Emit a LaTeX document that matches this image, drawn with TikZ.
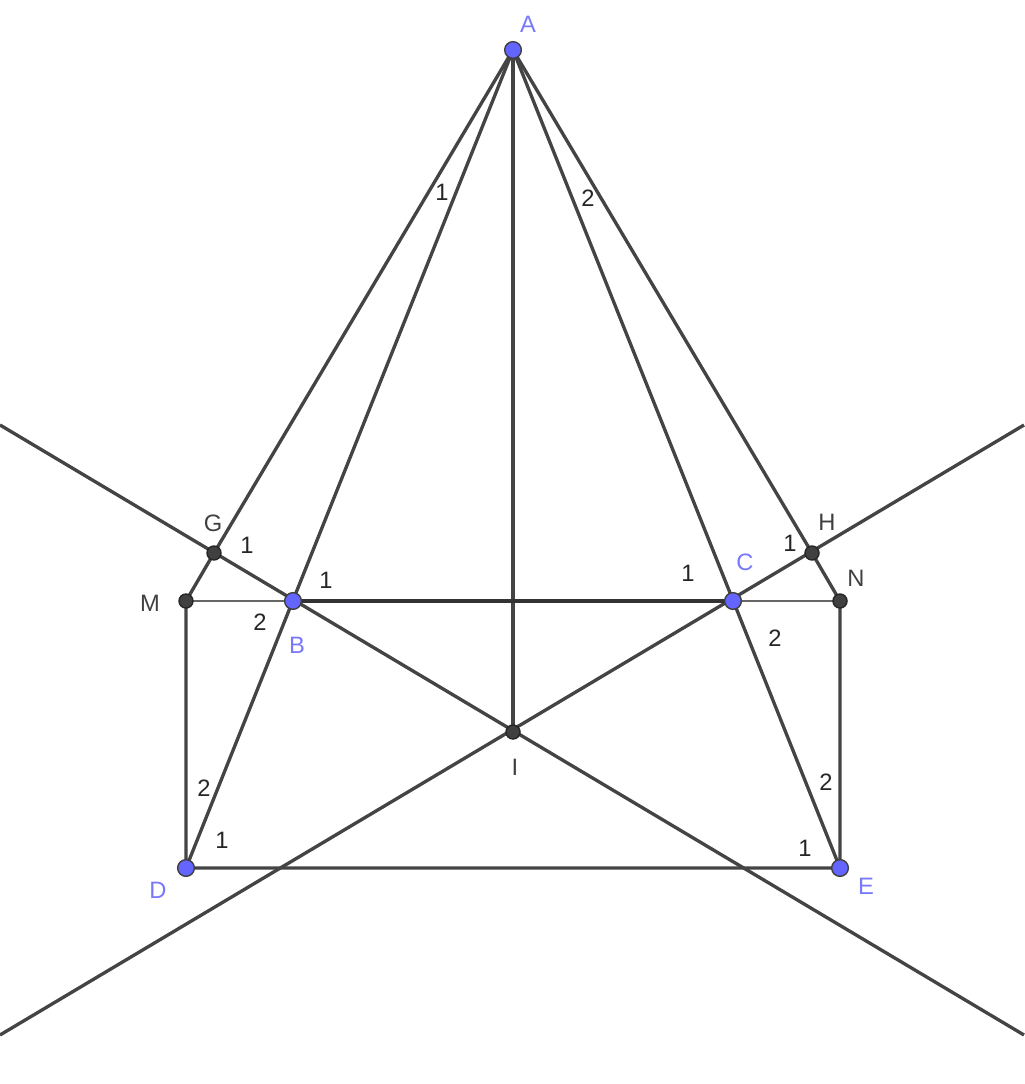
\documentclass[tikz,border=0pt]{standalone}
\usepackage{fontspec}
\setmainfont{Liberation Sans}
\usepackage{xcolor}
\definecolor{linegray}{RGB}{68,68,68}
\definecolor{ptblue}{RGB}{100,100,255}
\definecolor{lblblue}{RGB}{120,120,250}

\begin{document}
\begin{tikzpicture}[x=0.02cm,y=-0.02cm,line width=1.9pt,draw=linegray]
    \tikzstyle{free point}=[circle,fill=ptblue,draw=black!75,line width=0.8pt,minimum size=9.5pt,inner sep=0pt]
    \tikzstyle{dep point}=[circle,fill=black!75,draw=black!85,line width=0.8pt,minimum size=8pt,inner sep=0pt]
    \tikzstyle{lbl}=[text=lblblue,font=\fontsize{13.5}{15}\selectfont]
    \tikzstyle{dlbl}=[text=black!75,font=\fontsize{13.5}{15}\selectfont]
    \tikzstyle{ang}=[text=black!85,font=\fontsize{13.5}{15}\selectfont]
    \tikzstyle{thin seg}=[line width=1.5pt,draw=black!60]

    \useasboundingbox (0,0) rectangle (1024,1084);

    % points
    \coordinate (A) at (513,50);
    \coordinate (B) at (293,601);
    \coordinate (C) at (733,601);
    \coordinate (D) at (186,868);
    \coordinate (E) at (840,868);
    \coordinate (G) at (214,553);
    \coordinate (H) at (812,553);
    \coordinate (M) at (186,601);
    \coordinate (N) at (840,601);
    \coordinate (I) at (513,732);
    % free ends of the two long lines
    \coordinate (L1) at (0,425);
    \coordinate (L2) at (1024,1035);
    \coordinate (R1) at (0,1035);
    \coordinate (R2) at (1024,425);

    % the two long lines through I
    \draw (L1) -- (L2);
    \draw (R1) -- (R2);

    % lines from A
    \draw (A) -- (G);
    \draw (A) -- (D);
    \draw (A) -- (I);
    \draw (A) -- (E);
    \draw (A) -- (H);

    % the rectangle part
    \draw (G) -- (M) -- (D) -- (E) -- (N) -- (H);
    \draw[thin seg] (M) -- (B);
    \draw[thin seg] (C) -- (N);
    \draw[line width=2.1pt,draw=black!80] (B) -- (C);

    % dots
    \foreach \p in {G,H,M,N,I}
        \node[dep point] (\p-dot) at (\p) {};
    \foreach \p in {A,B,C,D,E}
        \node[free point] (\p-dot) at (\p) {};

    % point names
    \node[lbl] (A-lbl) at (528,24) {A};
    \node[lbl] (B-lbl) at (297,645) {B};
    \node[lbl] (C-lbl) at (745,562) {C};
    \node[lbl] (D-lbl) at (158,890) {D};
    \node[lbl] (E-lbl) at (866,886) {E};
    \node[dlbl] (G-lbl) at (213,523) {G};
    \node[dlbl] (H-lbl) at (827,522) {H};
    \node[dlbl] (M-lbl) at (150,603) {M};
    \node[dlbl] (N-lbl) at (856,578) {N};
    \node[dlbl] (I-lbl) at (515,767) {I};

    % angle marks
    \node[ang] (a1) at (442,192) {1};
    \node[ang] (a2) at (588,198) {2};
    \node[ang] (g1) at (247,545) {1};
    \node[ang] (b1) at (326,580) {1};
    \node[ang] (b2) at (260,622) {2};
    \node[ang] (c1) at (688,573) {1};
    \node[ang] (h1) at (790,543) {1};
    \node[ang] (c2) at (775,638) {2};
    \node[ang] (d2) at (204,788) {2};
    \node[ang] (d1) at (222,840) {1};
    \node[ang] (e2) at (826,782) {2};
    \node[ang] (e1) at (805,848) {1};
\end{tikzpicture}
\end{document}
